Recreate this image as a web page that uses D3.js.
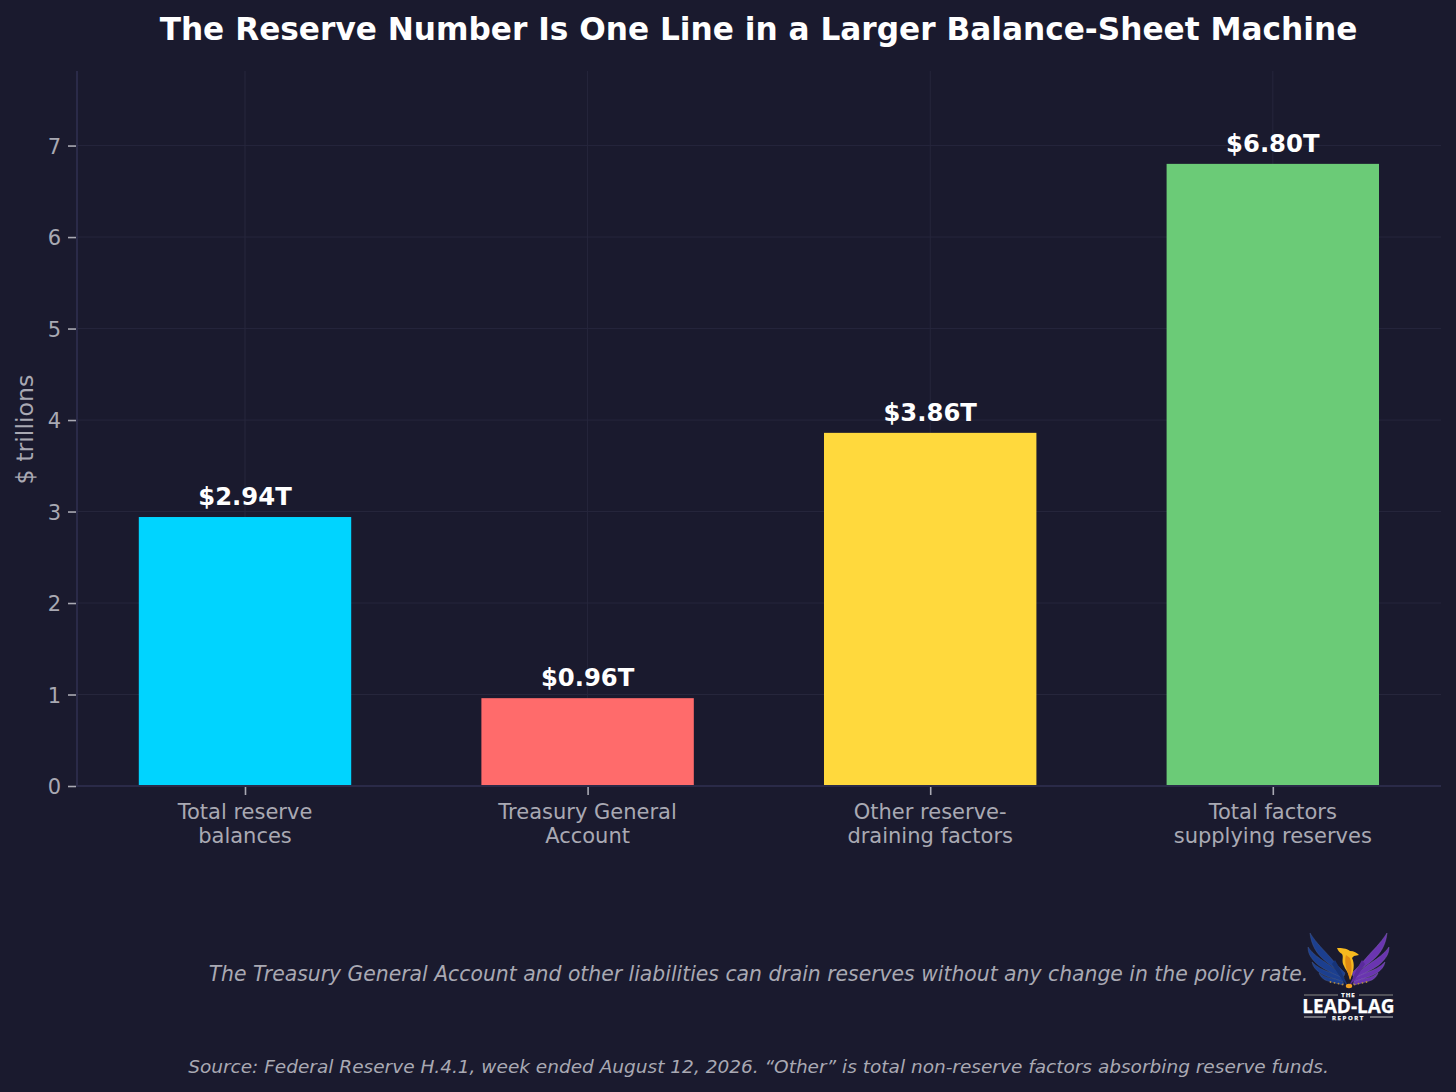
<!DOCTYPE html>
<html>
<head>
<meta charset="utf-8">
<script src="https://cdn.jsdelivr.net/npm/d3@7"></script>
<style>
  html, body { margin: 0; padding: 0; background: #1a1a2e; }
  svg { display: block; font-family: "DejaVu Sans", sans-serif; }
</style>
</head>
<body>
<div id="chart-area"></div>
<script>
// Data
var categories = [["Total reserve", "balances"], ["Treasury General", "Account"], ["Other reserve-", "draining factors"], ["Total factors", "supplying reserves"]];
var values = [2.94, 0.96, 3.86, 6.80];
var valueLabels = ["$2.94T", "$0.96T", "$3.86T", "$6.80T"];
var barColors = ["#00d4ff", "#ff6b6b", "#ffd93d", "#6bcb77"];
var yTicks = [0, 1, 2, 3, 4, 5, 6, 7];

var titleText = "The Reserve Number Is One Line in a Larger Balance-Sheet Machine";
var noteText = "The Treasury General Account and other liabilities can drain reserves without any change in the policy rate.";
var sourceText = "Source: Federal Reserve H.4.1, week ended August 12, 2026. \u201cOther\u201d is total non-reserve factors absorbing reserve funds.";

// SVG Size
var width = 1456,
    height = 1092;

var plotLeft = 77,
    plotRight = 1441,
    plotTop = 71,
    plotBottom = 786;

var textColor = "#a9a9b3";

var svg = d3.select("#chart-area")
    .append("svg")
    .attr("width", width)
    .attr("height", height);

svg.append("rect").attr("width", width).attr("height", height).attr("fill", "#1a1a2e");

// Scales
var xScale = d3.scalePoint()
    .domain(d3.range(categories.length))
    .range([245, 1272.8]);

var yScale = d3.scaleLinear()
    .domain([0, 7.815])
    .range([plotBottom, plotTop]);

var barWidth = xScale.step() * 0.62;

// Grid
svg.append("g").selectAll("line")
    .data(yTicks.slice(1))
    .enter().append("line")
    .attr("x1", plotLeft).attr("x2", plotRight)
    .attr("y1", d => yScale(d)).attr("y2", d => yScale(d))
    .attr("stroke", "#26263c").attr("stroke-width", 1);

svg.append("g").selectAll("line")
    .data(d3.range(categories.length))
    .enter().append("line")
    .attr("x1", d => xScale(d)).attr("x2", d => xScale(d))
    .attr("y1", plotTop).attr("y2", plotBottom)
    .attr("stroke", "#26263c").attr("stroke-width", 1);

// Bars
svg.selectAll("rect.bar")
    .data(values)
    .enter().append("rect")
    .attr("class", "bar")
    .attr("x", (d, i) => xScale(i) - barWidth / 2)
    .attr("y", d => yScale(d))
    .attr("width", barWidth)
    .attr("height", d => plotBottom - yScale(d))
    .attr("fill", (d, i) => barColors[i]);

// Value labels
svg.selectAll("text.value")
    .data(values)
    .enter().append("text")
    .attr("class", "value")
    .attr("x", (d, i) => xScale(i))
    .attr("y", d => yScale(d) - 12)
    .attr("text-anchor", "middle")
    .attr("font-size", 24.3)
    .attr("font-weight", "bold")
    .attr("fill", "#ffffff")
    .text((d, i) => valueLabels[i]);

// Axes
var yAxis = d3.axisLeft(yScale).tickValues(yTicks).tickSize(8).tickPadding(8).tickFormat(d3.format("d"));
var xAxis = d3.axisBottom(xScale).tickSize(8).tickFormat("");

var yG = svg.append("g")
    .attr("transform", "translate(" + plotLeft + ",0)")
    .call(yAxis);
yG.select(".domain").remove();
yG.selectAll(".tick line").attr("stroke", textColor).attr("stroke-width", 1.6).attr("transform", "translate(-1,0)");
yG.selectAll(".tick text").attr("fill", textColor).attr("font-size", 21).attr("font-family", "DejaVu Sans").attr("dy", "0.36em");

var xG = svg.append("g")
    .attr("transform", "translate(0," + plotBottom + ")")
    .call(xAxis);
xG.select(".domain").remove();
xG.selectAll(".tick line").attr("stroke", textColor).attr("stroke-width", 1.6).attr("transform", "translate(0,1)");

// Spines
svg.append("line").attr("x1", plotLeft).attr("x2", plotLeft).attr("y1", plotTop).attr("y2", plotBottom + 1)
    .attr("stroke", "#2a2a48").attr("stroke-width", 2);
svg.append("line").attr("x1", plotLeft).attr("x2", plotRight).attr("y1", plotBottom).attr("y2", plotBottom)
    .attr("stroke", "#2a2a48").attr("stroke-width", 2);

// Category labels
categories.forEach(function(lines, i) {
    lines.forEach(function(line, j) {
        svg.append("text")
            .attr("x", xScale(i))
            .attr("y", 818.6 + j * 24)
            .attr("text-anchor", "middle")
            .attr("font-size", 21)
            .attr("fill", textColor)
            .text(line);
    });
});

svg.append("text")
    .attr("text-anchor", "middle")
    .attr("transform", "translate(33,429.5)rotate(-90)")
    .attr("font-size", 23.7)
    .attr("fill", textColor)
    .text("$ trillions");

// Title and notes
svg.append("text")
    .attr("x", 758.5).attr("y", 40)
    .attr("text-anchor", "middle")
    .attr("font-size", 31.2)
    .attr("font-weight", "bold")
    .attr("fill", "#ffffff")
    .text(titleText);

svg.append("text")
    .attr("x", 758.5).attr("y", 980.7)
    .attr("text-anchor", "middle")
    .attr("font-size", 20.35)
    .attr("font-style", "italic")
    .attr("fill", textColor)
    .text(noteText);

svg.append("text")
    .attr("x", 758.5).attr("y", 1072.6)
    .attr("text-anchor", "middle")
    .attr("font-size", 18.5)
    .attr("font-style", "italic")
    .attr("fill", textColor)
    .text(sourceText);

// Logo, drawn by hand
var logo = svg.append("g").attr("transform", "translate(1280,920)");

var feathers = [
    "M64,56 C54,47 48,44 41,37 C35,31 31,23 30,13 C37,24 44,30 50,37 C55,43 60,48 65,53 Z",
    "M63,60 C52,52 42,49 36,43 C31,38 28,34 28,27 C33,34 39,38 45,42 C52,47 58,51 64,57 Z",
    "M63,62 C54,58 46,57 40,53 C36,50 33,47 32,42 C37,47 43,50 49,52 C54,54 59,56 64,59 Z",
    "M63,65 C56,63 50,62 45,60 C42,58 40,56 39,53 C44,57 50,58 55,59 C58,60 61,61 64,63 Z"
];
logo.selectAll("path.left").data(feathers).enter().append("path")
    .attr("d", d => d).attr("fill", "#1c3f8f").attr("stroke", "#4a5f8f").attr("stroke-width", 0.4);
logo.selectAll("path.right").data(feathers).enter().append("path")
    .attr("d", d => d).attr("transform", "translate(137,0) scale(-1,1)")
    .attr("fill", "#6a35b0").attr("stroke", "#8a6cc0").attr("stroke-width", 0.4);

// inner wing roots running down to the tail
logo.append("path").attr("d", "M55,40 C60,48 63,56 68,66 C63,62 57,52 52,44 Z").attr("fill", "#173478");
logo.append("path").attr("d", "M82,40 C77,48 74,56 69,66 C74,62 80,52 85,44 Z").attr("fill", "#5a2a9c");

// bird
logo.append("path").attr("d", "M57,28 C62,28 66,28 70,31 C74,31 77,33 79,35 L74,36 L72,38 C75,44 74,51 70,60 C69,52 66,51 64,46 C61,41 64,37 62,34 C60,33 58,31 57,28 Z").attr("fill", "#f6b91f");
logo.append("path").attr("d", "M66,35 C64,42 66,48 70,60 C72,52 72,44 70,38 Z").attr("fill", "#e08a12");

// gold ornament under the bird
var ornamentX = [-18, -14, -10, -6, 6, 10, 14, 18];
logo.selectAll("circle").data(ornamentX).enter().append("circle")
    .attr("cx", d => 68.5 + d).attr("cy", d => 62 + (18 - Math.abs(d)) * 0.2).attr("r", 0.9).attr("fill", "#b08a40");
logo.append("ellipse").attr("cx", 69).attr("cy", 66).attr("rx", 3.2).attr("ry", 2.2).attr("fill", "#f0a020");

logo.append("line").attr("x1", 24).attr("x2", 58).attr("y1", 75).attr("y2", 75).attr("stroke", "#8a8a86").attr("stroke-width", 1);
logo.append("line").attr("x1", 79).attr("x2", 113).attr("y1", 75).attr("y2", 75).attr("stroke", "#8a8a86").attr("stroke-width", 1);
logo.append("line").attr("x1", 24).attr("x2", 46).attr("y1", 97).attr("y2", 97).attr("stroke", "#c8c8c8").attr("stroke-width", 1);
logo.append("line").attr("x1", 90).attr("x2", 113).attr("y1", 97).attr("y2", 97).attr("stroke", "#c8c8c8").attr("stroke-width", 1);

var logoText = [
    { t: "THE", y: 77, s: 6, sp: 1 },
    { t: "LEAD-LAG", y: 92.5, s: 19, sp: 0 },
    { t: "REPORT", y: 99.5, s: 6, sp: 1.6 }
];
logo.selectAll("text").data(logoText).enter().append("text")
    .attr("x", 68.5).attr("y", d => d.y)
    .attr("text-anchor", "middle")
    .attr("font-family", "Open Sans, DejaVu Sans")
    .attr("font-weight", "bold")
    .attr("font-size", d => d.s)
    .attr("letter-spacing", d => d.sp)
    .attr("fill", "#ffffff")
    .attr("stroke", "#ffffff")
    .attr("stroke-width", 0.25)
    .text(d => d.t);
</script>
</body>
</html>
